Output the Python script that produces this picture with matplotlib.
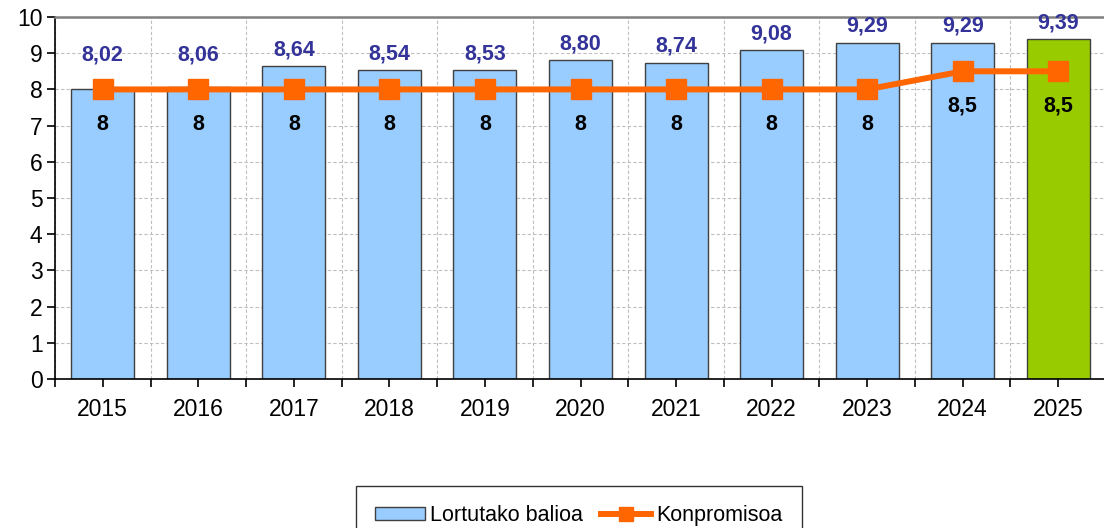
import matplotlib.pyplot as plt
import numpy as np

# chart data
years = ["2015", "2016", "2017", "2018", "2019", "2020",
         "2021", "2022", "2023", "2024", "2025"]
achieved = [8.02, 8.06, 8.64, 8.54, 8.53, 8.80, 8.74, 9.08, 9.29, 9.29, 9.39]
commitment = [8, 8, 8, 8, 8, 8, 8, 8, 8, 8.5, 8.5]
y_ticks = [0, 1, 2, 3, 4, 5, 6, 7, 8, 9, 10]


def fmt(v, decimals=None):
    # basque number format uses a decimal comma
    txt = f"{v:.{decimals}f}" if decimals is not None else f"{v:g}"
    return txt.replace(".", ",")


plt.rcParams['font.family'] = ['Liberation Sans', 'DejaVu Sans']

fig = plt.figure(figsize=(11.04, 5.28), dpi=100)
axis = fig.add_axes([55 / 1104, 1 - 379 / 528, 1051 / 1104, 362 / 528])

x = np.arange(len(years))

# bars: last year highlighted in green
bar_colors = ["#99CCFF"] * (len(years) - 1) + ["#99CC00"]
bars = axis.bar(x, achieved, width=0.66, color=bar_colors, edgecolor="#404040",
                linewidth=1.0, zorder=2, label="Lortutako balioa")

# commitment line
line, = axis.plot(x, commitment, color="#FF6600", linewidth=4.3, marker="s",
                  markersize=14, zorder=3, label="Konpromisoa")

# value labels above the bars
for i, v in enumerate(achieved):
    axis.text(i, max(v + 0.45, 8.95), fmt(v, 2), ha="center", va="center",
              color="#333399", fontsize=15.5, fontweight="bold", zorder=4)

# commitment labels under the markers
for i, c in enumerate(commitment):
    axis.annotate(fmt(c), xy=(i, c), xytext=(0, -25),
                  textcoords="offset points", ha="center", va="center",
                  color="black", fontsize=15.5, fontweight="bold", zorder=4)

# axes limits, ticks and grid
axis.set_xlim(-0.5, len(years) - 0.5)
axis.set_ylim(0, 10)
axis.set_yticks(y_ticks)
axis.set_xticks(x)
axis.set_xticklabels(years)
axis.set_xticks(np.arange(-0.5, len(years), 1.0), minor=True)
axis.tick_params(axis="both", which="major", labelsize=16.5, length=6,
                 width=1.2, direction="out", colors="black")
axis.tick_params(axis="x", which="major", pad=8)
axis.tick_params(axis="x", which="minor", length=6, width=1.2)
axis.tick_params(axis="y", pad=3)

axis.yaxis.grid(True, linestyle=(0, (3, 2)), color="#BFBFBF", linewidth=0.8)
axis.xaxis.grid(True, which="minor", linestyle=(0, (3, 2)), color="#BFBFBF",
                linewidth=0.8)
axis.set_axisbelow(True)

axis.spines["top"].set_color("#808080")
axis.spines["top"].set_linewidth(1.8)
axis.spines["right"].set_visible(False)
axis.spines["left"].set_linewidth(1.2)
axis.spines["bottom"].set_linewidth(1.2)

# legend below the chart
leg = fig.legend([bars, line], ["Lortutako balioa", "Konpromisoa"],
                 loc="upper left", bbox_to_anchor=(356 / 1104, 1 - 486 / 528),
                 borderaxespad=0, ncol=2, fontsize=15.5, frameon=True,
                 fancybox=False, edgecolor="black", handlelength=2.3,
                 handleheight=0.55, columnspacing=0.85, handletextpad=0.25,
                 borderpad=0.9)
leg.get_frame().set_linewidth(1.0)
leg.legend_handles[0].set_facecolor("#99CCFF")
leg.legend_handles[1].set_markersize(10)

fig.savefig("out.png", dpi=100)
